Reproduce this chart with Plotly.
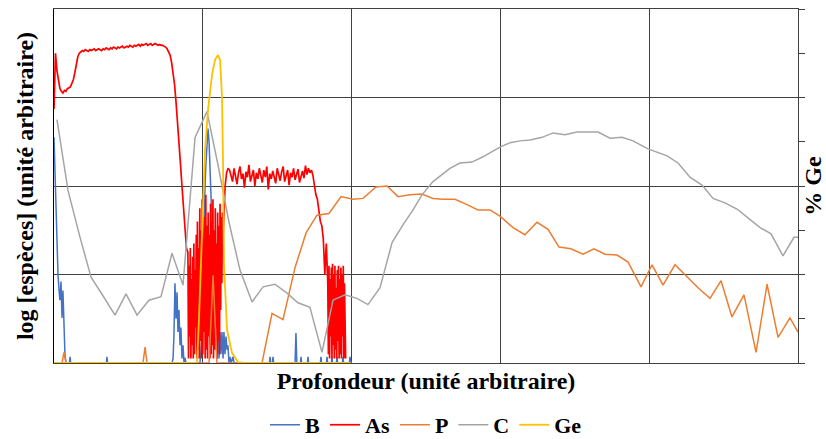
import plotly.graph_objects as go

# ---------------- data (depth in arbitrary units 0..5, log species 0..4, %Ge 0..8) -------------
# As profile, four segments (smooth part, noisy zone 1, plateau, noisy zone 2)
AS1_X0, AS1_STEP = 0.00, 0.01
AS1_Y = [2.87, 3.50, 3.30, 3.17, 3.10, 3.07, 3.05, 3.08, 3.07, 3.10,
         3.11, 3.12, 3.16, 3.20, 3.28, 3.38, 3.46, 3.50, 3.52,
         3.53, 3.52, 3.54, 3.53, 3.52, 3.54, 3.53, 3.54, 3.55, 3.53,
         3.54, 3.55, 3.54, 3.53, 3.55, 3.54, 3.56, 3.55, 3.54, 3.56,
         3.55, 3.57, 3.56, 3.55, 3.57, 3.56, 3.57, 3.58, 3.56, 3.57,
         3.58, 3.57, 3.59, 3.58, 3.57, 3.59, 3.58, 3.59, 3.60, 3.58,
         3.60, 3.59, 3.60, 3.61, 3.59, 3.60, 3.61, 3.59, 3.60, 3.61,
         3.60, 3.59, 3.60, 3.59, 3.59, 3.58, 3.57, 3.55, 3.52, 3.48,
         3.40, 3.30, 3.15, 2.95, 2.75, 2.50, 2.25, 2.00, 1.75, 1.50,
         1.30]
AS2_X0, AS2_STEP = 0.90, 0.004
AS2_Y = [1.25, 0.05, 1.10, 0.30, 1.30, 0.05, 0.95, 0.20, 1.20, 0.05,
         1.35, 0.10, 1.05, 0.40, 1.45, 0.05, 1.60, 0.15, 1.30, 0.05,
         1.75, 0.25, 1.50, 0.05, 1.85, 0.10, 1.40, 0.35, 1.65, 0.05,
         1.90, 0.15, 1.55, 0.05, 1.70, 0.30, 1.45, 0.05, 1.80, 0.10,
         1.60, 0.20, 1.85, 0.05, 1.50, 0.15, 1.75, 0.40, 1.35, 0.05,
         1.70, 0.25, 1.55, 0.10, 1.80, 0.60, 1.65, 0.90, 1.70, 1.40,
         1.60]
AS3_X0, AS3_STEP = 1.15, 0.01
AS3_Y = [2.00, 2.15, 2.20,
         2.18, 2.10, 2.05, 2.20, 2.12, 2.02, 2.15, 2.22, 2.08, 2.14,
         1.98, 2.16, 2.10, 2.24, 2.05, 2.12, 2.18, 2.00, 2.15, 2.08,
         2.20, 2.12, 2.04, 2.18, 2.10, 2.22, 1.96, 2.14, 2.08, 2.17,
         2.11, 2.03, 2.20, 2.12, 2.06, 2.16, 2.22, 2.05, 2.13, 2.18,
         2.01, 2.15, 2.10, 2.20, 2.07, 2.14, 2.19, 2.04, 2.12, 2.17,
         2.09, 2.23, 2.13, 2.20, 2.15, 2.18, 2.12,
         2.00, 1.90, 1.85, 1.70, 1.60, 1.55, 1.40, 1.00, 1.35]
AS4_X0, AS4_STEP = 1.84, 0.004
AS4_Y = [0.90, 0.10, 1.10, 0.05, 0.95, 0.30, 1.08, 0.05, 1.12, 0.20,
         1.00, 0.05, 1.10, 0.15, 0.85, 0.05, 1.05, 0.25, 1.10, 0.05,
         0.95, 0.10, 1.08, 0.05, 1.00, 0.30, 1.10, 0.05, 0.90, 0.15,
         0.05]

AS_X, AS_Y = [], []
for x0, step, ys in [(AS1_X0, AS1_STEP, AS1_Y), (AS2_X0, AS2_STEP, AS2_Y),
                     (AS3_X0, AS3_STEP, AS3_Y), (AS4_X0, AS4_STEP, AS4_Y)]:
    AS_X += [round(x0 + i * step, 4) for i in range(len(ys))]
    AS_Y += ys

B_X = [0.000, 0.007, 0.013, 0.020, 0.027, 0.034, 0.040, 0.047, 0.054, 0.060,
       0.067, 0.074, 0.081, 0.104, 0.108, 0.112, 0.352, 0.356, 0.360,
       0.793, 0.800, 0.806, 0.813, 0.820, 0.827, 0.833, 0.840, 0.847, 0.853,
       0.860, 0.867, 0.874, 0.880, 0.887,
       0.981, 0.995, 1.001, 1.008, 1.015, 1.021, 1.028, 1.035, 1.042, 1.048,
       1.055, 1.062, 1.069, 1.075, 1.082, 1.089, 1.095, 1.102, 1.109, 1.116,
       1.122, 1.129, 1.136, 1.142, 1.149, 1.156, 1.163, 1.169, 1.176, 1.183,
       1.190, 1.203, 1.210,
       1.448, 1.452, 1.456, 1.468, 1.472, 1.476, 1.620, 1.626, 1.632,
       1.656, 1.660, 1.664, 1.703, 1.707, 1.711, 1.790, 1.794, 1.798,
       1.831, 1.835, 1.839, 1.864, 1.868, 1.872, 1.898, 1.902, 1.906,
       1.938, 1.942, 1.946, 1.985, 1.989, 1.996]
B_Y = [2.55, 2.18, 1.73, 1.28, 0.99, 0.82, 0.71, 0.92, 0.51, 0.82,
       0.32, 0.08, 0.00, 0.00, 0.07, 0.00, 0.00, 0.07, 0.00,
       0.00, 0.05, 0.30, 0.90, 0.50, 0.80, 0.35, 0.60, 0.20, 0.40,
       0.05, 0.20, 0.00, 0.06, 0.00,
       0.00, 0.30, 1.10, 1.80, 2.00, 2.25, 2.40, 2.65, 2.50, 2.30,
       1.90, 1.50, 1.20, 0.60, 0.20, 0.35, 0.05, 0.35, 0.05, 0.35,
       0.10, 0.35, 0.05, 0.35, 0.10, 0.30, 0.15, 0.20, 0.00, 0.07,
       0.00, 0.07, 0.00,
       0.00, 0.07, 0.00, 0.00, 0.07, 0.00, 0.00, 0.34, 0.00,
       0.00, 0.07, 0.00, 0.00, 0.07, 0.00, 0.00, 0.07, 0.00,
       0.00, 0.07, 0.00, 0.00, 0.07, 0.00, 0.00, 0.07, 0.00,
       0.00, 0.07, 0.00, 0.00, 0.07, 0.00]

P_X = [0.000, 0.054, 0.067, 0.081, 0.598, 0.612, 0.625, 1.042, 1.069, 1.095,
       1.398, 1.465, 1.539, 1.620, 1.694, 1.767, 1.848, 1.929, 2.009, 2.077,
       2.164, 2.238, 2.312, 2.392, 2.473, 2.547, 2.614, 2.695, 2.776, 2.849,
       2.930, 2.997, 3.085, 3.165, 3.246, 3.320, 3.394, 3.474, 3.555, 3.629,
       3.703, 3.784, 3.858, 3.945, 4.019, 4.093, 4.173, 4.254, 4.328, 4.409,
       4.483, 4.556, 4.637, 4.718, 4.792, 4.866, 4.946, 5.000]
P_Y = [0.00, 0.00, 0.12, 0.00, 0.00, 0.18, 0.00, 0.00, 0.99, 0.00,
       0.00, 0.56, 0.49, 1.08, 1.47, 1.67, 1.69, 1.88, 1.85, 1.86,
       1.99, 2.00, 1.88, 1.90, 1.91, 1.86, 1.85, 1.85, 1.79, 1.73,
       1.73, 1.66, 1.53, 1.45, 1.59, 1.51, 1.31, 1.29, 1.23, 1.29,
       1.23, 1.22, 1.14, 0.86, 1.11, 0.88, 1.11, 0.97, 0.85, 0.73,
       0.93, 0.52, 0.77, 0.12, 0.89, 0.29, 0.51, 0.35]

C_X = [0.020, 0.094, 0.175, 0.249, 0.329, 0.410, 0.484, 0.558, 0.638, 0.719,
       0.793, 0.867, 0.948, 1.028, 1.102, 1.176, 1.250, 1.331, 1.405, 1.485,
       1.566, 1.640, 1.720, 1.801, 1.875, 1.956, 2.036, 2.110, 2.191, 2.272,
       2.345, 2.413, 2.473, 2.547, 2.661, 2.728, 2.809, 2.883, 2.997, 3.065,
       3.132, 3.199, 3.280, 3.354, 3.434, 3.515, 3.656, 3.737, 3.817, 3.891,
       3.992, 4.052, 4.120, 4.194, 4.274, 4.355, 4.429, 4.509, 4.590, 4.664,
       4.745, 4.819, 4.899, 4.973, 5.000]
C_Y = [2.75, 1.95, 1.42, 0.97, 0.76, 0.54, 0.78, 0.54, 0.71, 0.75,
       1.24, 0.88, 2.55, 2.84, 2.24, 1.59, 1.05, 0.69, 0.86, 0.89,
       0.79, 0.68, 0.63, 0.12, 0.71, 0.77, 0.73, 0.66, 0.85, 1.36,
       1.56, 1.73, 1.90, 2.05, 2.20, 2.26, 2.27, 2.33, 2.44, 2.49,
       2.51, 2.52, 2.55, 2.60, 2.58, 2.61, 2.61, 2.54, 2.55, 2.51,
       2.42, 2.38, 2.34, 2.26, 2.10, 2.01, 1.86, 1.81, 1.74, 1.64,
       1.53, 1.46, 1.21, 1.42, 1.42]

GE_X = [0.000, 0.961, 0.974, 0.995, 1.015, 1.035, 1.062, 1.082, 1.102, 1.116,
        1.129, 1.136, 1.142, 1.163, 1.196, 1.237, 1.284, 1.996]
GE_Y = [0.00, 0.00, 0.97, 3.01, 4.81, 5.72, 6.51, 6.85, 6.96, 6.85,
        6.01, 4.52, 2.26, 0.75, 0.23, 0.02, 0.00, 0.00]

SERIES_NAMES = ["B", "As", "P", "C", "Ge"]
COLORS = ["#4472C4", "#FF0000", "#ED7D31", "#A5A5A5", "#FFC000"]

X_TITLE = "Profondeur (unité arbitraire)"
Y_TITLE = "log [espèces] (unité arbitraire)"
Y2_TITLE = "% Ge"

FONT = dict(family="Liberation Serif, Times New Roman, serif", size=24, color="black", weight="bold")
LEG_FONT = dict(family="Liberation Serif, Times New Roman, serif", size=22, color="black", weight="bold")
GRID = "#404040"

fig = go.Figure()
fig.add_trace(go.Scatter(x=B_X, y=B_Y, name=SERIES_NAMES[0], mode="lines",
                         line=dict(color=COLORS[0], width=1.5)))
fig.add_trace(go.Scatter(x=AS_X, y=AS_Y, name=SERIES_NAMES[1], mode="lines",
                         line=dict(color=COLORS[1], width=1.7)))
fig.add_trace(go.Scatter(x=P_X, y=P_Y, name=SERIES_NAMES[2], mode="lines",
                         line=dict(color=COLORS[2], width=1.5)))
fig.add_trace(go.Scatter(x=C_X, y=C_Y, name=SERIES_NAMES[3], mode="lines",
                         line=dict(color=COLORS[3], width=1.5)))
fig.add_trace(go.Scatter(x=GE_X, y=GE_Y, name=SERIES_NAMES[4], mode="lines", yaxis="y2",
                         line=dict(color=COLORS[4], width=1.8)))

fig.update_layout(
    width=826, height=439,
    margin=dict(l=54, r=28, t=9, b=76, autoexpand=False),
    paper_bgcolor="white", plot_bgcolor="white",
    font=FONT,
    showlegend=True,
    legend=dict(orientation="h", x=0.5, xanchor="center", y=-0.175, yanchor="middle",
                font=LEG_FONT, itemwidth=30, tracegroupgap=0),
    xaxis=dict(range=[0, 5], dtick=1, tick0=0, showgrid=True, gridcolor=GRID, gridwidth=1,
               showline=True, linecolor=GRID, linewidth=1, mirror=True,
               showticklabels=False, ticks="", zeroline=False, automargin=False,
               title=dict(text=X_TITLE, font=FONT, standoff=9)),
    yaxis=dict(range=[0, 4], dtick=1, tick0=0, showgrid=True, gridcolor=GRID, gridwidth=1,
               showline=True, linecolor="black", linewidth=1,
               showticklabels=False, ticks="", zeroline=False, automargin=False,
               title=dict(text=Y_TITLE, font=FONT, standoff=12)),
    yaxis2=dict(range=[0, 8], dtick=1, tick0=0, overlaying="y", side="right",
                showgrid=False, showline=True, linecolor=GRID, linewidth=1,
                ticks="outside", ticklen=6, tickcolor=GRID, showticklabels=False,
                zeroline=False, automargin=False,
                title=dict(text=Y2_TITLE, font=FONT, standoff=2)),
)

fig.write_html("out.html", config={"displayModeBar": False},
               post_script="document.body.style.margin='0';")
